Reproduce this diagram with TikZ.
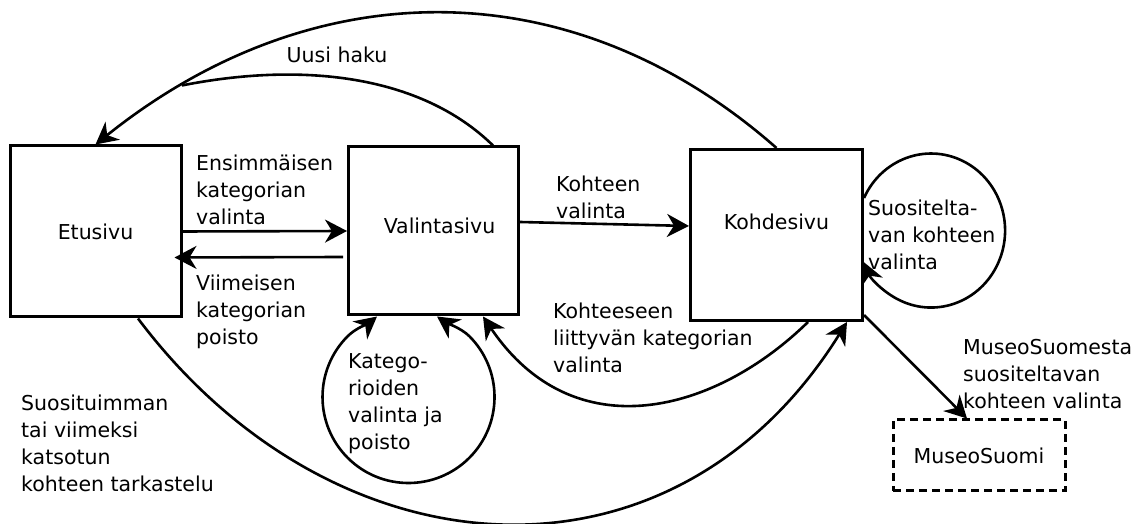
\documentclass[tikz,border=0pt]{standalone}
\usepackage{fontspec}
\setmainfont{DejaVu Sans}
\usetikzlibrary{arrows.meta}

\begin{document}
\begin{tikzpicture}[x=1pt,y=1pt,>={Stealth[length=22pt,width=23pt,inset=7pt]},
  every node/.style={font=\fontsize{20.5}{27}\selectfont},
  page/.style={draw,line width=3pt,inner sep=0pt},
  flow/.style={->,line width=2.6pt},
  note/.style={align=left,anchor=west,inner sep=0pt}]
  \useasboundingbox (0,0) rectangle (1139,524);

  \node[page,minimum width=171pt,minimum height=171pt] (etusivu) at (95.5,292.5) {Etusivu};
  \node[page,minimum width=170pt,minimum height=168pt,
    label={[xshift=6pt,yshift=5pt]center:Valintasivu}] (valinta) at (433.5,293) {};
  \node[page,minimum width=172pt,minimum height=171pt,
    label={[yshift=13pt]center:Kohdesivu}] (kohde) at (776.5,289) {};
  \node[page,dash pattern=on 8pt off 5pt,minimum width=172pt,minimum height=71pt] (museo) at (979,68.5) {MuseoSuomi};

  \draw[flow] (etusivu.east) -- (valinta.west);
  \draw[flow] ([xshift=-4pt,yshift=-26pt]valinta.west) -- ([xshift=-8pt,yshift=-26pt]etusivu.east);
  \draw[flow] ([yshift=9pt]valinta.east) -- ([yshift=9pt]kohde.west);

  \draw[flow] (kohde.north) .. controls (571,557) and (312,553) .. (etusivu.north)
    coordinate[pos=0.87] (haku);
  \draw[line width=2.6pt] ([xshift=59.5pt]valinta.north) .. controls (420,450) and (300,462) .. (haku);

  \draw[flow] ([yshift=37pt]kohde.east) arc[start angle=155,end angle=-156,x radius=74pt,y radius=77pt];
  \draw[flow,<->] ([xshift=-56.5pt]valinta.south) .. controls (369,201) and (355.7,195.8) .. (347.7,187.8)
    arc[start angle=135,end angle=405,radius=86pt]
    .. controls (461.3,195.8) and (445,202) .. ([xshift=3.5pt]valinta.south);

  \draw[flow] ([xshift=31.5pt]kohde.south) .. controls (715,111) and (574,73) .. ([xshift=49.5pt]valinta.south);
  \draw[flow] ([xshift=42.5pt]etusivu.south) .. controls (333,-54) and (672,-79) .. ([xshift=70.5pt]kohde.south);
  \draw[flow] ([yshift=7pt]kohde.south east) -- ([xshift=-12pt]museo.north);

  \node[note] (ensim) at (196,334) {Ensimmäisen\\kategorian\\valinta};
  \node[note] (viim) at (196,212) {Viimeisen\\kategorian\\poisto};
  \node[note] (kohteen) at (556,327) {Kohteen\\valinta};
  \node (uusi) at (337,469) {Uusi haku};
  \node[note] (suosit) at (868,289) {Suositelta-\\van kohteen\\valinta};
  \node[note] (katego) at (348,120) {Katego-\\rioiden\\valinta ja\\poisto};
  \node[note] (liittyva) at (553,186) {Kohteeseen\\liittyvän kategorian\\valinta};
  \node[note] (suosituin) at (21,81) {Suosituimman\\tai viimeksi\\katsotun\\kohteen tarkastelu};
  \node[note] (museoteksti) at (963,150) {MuseoSuomesta\\suositeltavan\\kohteen valinta};
\end{tikzpicture}
\end{document}
